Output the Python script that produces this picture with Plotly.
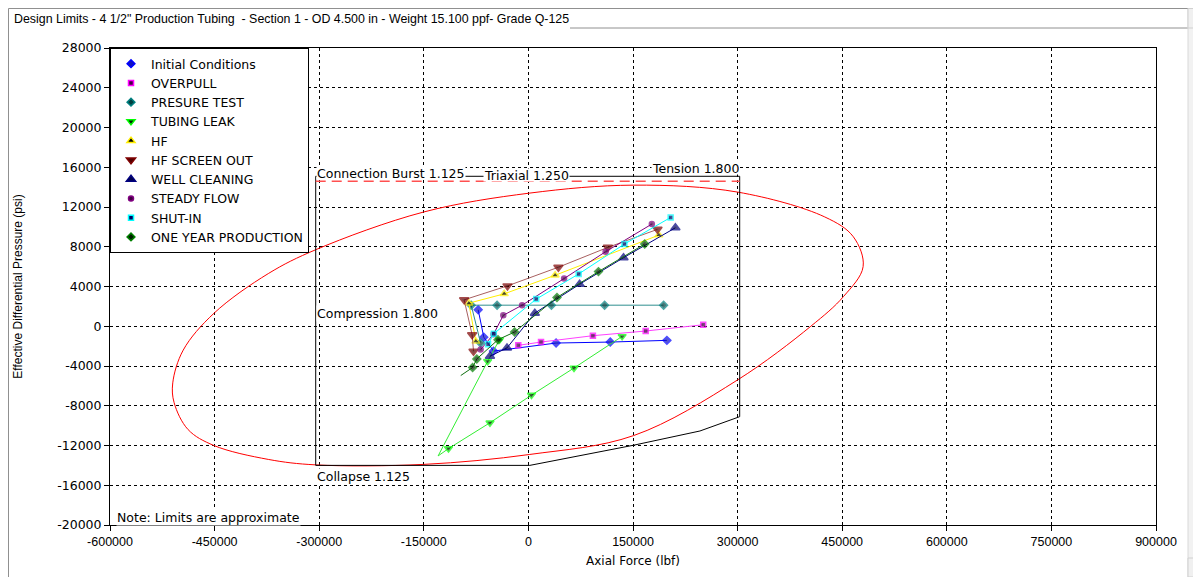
import plotly.graph_objects as go

# ---------------- data ----------------
TITLE = 'Design Limits - 4 1/2" Production Tubing  - Section 1 - OD 4.500 in - Weight 15.100 ppf- Grade Q-125'

X_TICKS = [-600000, -450000, -300000, -150000, 0, 150000, 300000, 450000, 600000, 750000, 900000]
Y_TICKS = [-20000, -16000, -12000, -8000, -4000, 0, 4000, 8000, 12000, 16000, 20000, 24000, 28000]

# Triaxial envelope
TRIAX_X = [151000, 300000, 425000, 466000, 480000, 452000, 405000, 300000, 151000, 2000,
           -150000, -305000, -373000, -451000, -488000, -508000, -510000, -495000, -451000,
           -373000, -305000, -150000, 2000, 151000]
TRIAX_Y = [14200, 13500, 11000, 9000, 6000, 3000, 0, -5400, -11000, -12900,
           -13900, -13950, -13400, -12000, -10400, -7700, -5700, -2400, 1300,
           5300, 7700, 11500, 13400, 14200]

# Rectangular / collapse limit outline
LIMIT_X = [-305000, -305000, 303000, 303000, 246000, 151000, 2000, -305000]
LIMIT_Y = [-14000, 15090, 15090, -9100, -10540, -11970, -14000, -14000]

# Connection burst
CONN_BURST_X = [-305000, 303000]
CONN_BURST_Y = [14590, 14590]

SERIES_NAMES = ["Initial Conditions", "OVERPULL", "PRESURE TEST", "TUBING LEAK", "HF",
                "HF SCREEN OUT", "WELL CLEANING", "STEADY FLOW", "SHUT-IN", "ONE YEAR PRODUCTION"]

INIT_X = [-72000, -64000, -50000, 39700, 117400, 198600]
INIT_Y = [1660, -1100, -2500, -1690, -1590, -1420]

OVERPULL_X = [-14500, 18100, 92500, 168200, 250700]
OVERPULL_Y = [-1920, -1590, -950, -480, 150]

PRESS_X = [-68500, -82000, -44900, 33000, 109300, 193900]
PRESS_Y = [-1690, 2120, 2120, 2120, 2120, 2120]

LEAK_X = [-41400, -58400, -129500, -114600, -55100, 4400, 65400, 134400]
LEAK_Y = [-1350, -3520, -13050, -12310, -9710, -6930, -4200, -1020]

HF_X = [-75300, -85500, -34700, 38300, 187100]
HF_Y = [-1520, 2320, 3260, 5130, 9170]

HFSO_X = [-78700, -80700, -92200, -30000, 43000, 114000, 185100]
HFSO_Y = [-2520, -850, 2660, 4060, 5940, 7940, 9750]

WELL_X = [-55100, -30700, 9200, 73400, 136400, 210800]
WELL_Y = [-3020, -2180, 1320, 4230, 6900, 9910]

STEADY_X = [-68500, -50000, -36000, -9000, 51200, 110700, 177000]
STEADY_Y = [-2350, -800, 1100, 2120, 4800, 7500, 10280]

SHUT_X = [-57800, -49600, 11200, 72100, 137700, 204000]
SHUT_Y = [-1820, -750, 2730, 5260, 8270, 10950]

ONEYEAR_X = [-97000, -80000, -74000, -43600, -19800, 41000, 100500, 166800]
ONEYEAR_Y = [-4960, -4150, -3290, -1350, -580, 2900, 5500, 8270]

# ---------------- styles ----------------
ARIAL = "Liberation Sans, Arial, sans-serif"
WIDE = "DejaVu Sans, Verdana, sans-serif"
STYLES = [
    # line color, marker symbol, marker fill, marker outline, size
    ("#0000ff", "diamond", "#1010c0", "#0000ff", 6),
    ("#ff40ff", "square", "#400040", "#ff00ff", 5),
    ("#2f8f8f", "diamond", "#004040", "#008080", 6),
    ("#33ee33", "triangle-down", "#002000", "#00ff00", 7),
    ("#ffee00", "triangle-up", "#000000", "#ffee00", 7),
    ("#a86060", "triangle-down", "#500000", "#800000", 8),
    ("#000080", "triangle-up", "#000050", "#000080", 8),
    ("#800080", "circle", "#400040", "#800080", 5),
    ("#00ffff", "square", "#000060", "#00ffff", 5),
    ("#107010", "diamond", "#002000", "#008000", 6),
]
DATA = [(INIT_X, INIT_Y), (OVERPULL_X, OVERPULL_Y), (PRESS_X, PRESS_Y), (LEAK_X, LEAK_Y),
        (HF_X, HF_Y), (HFSO_X, HFSO_Y), (WELL_X, WELL_Y), (STEADY_X, STEADY_Y),
        (SHUT_X, SHUT_Y), (ONEYEAR_X, ONEYEAR_Y)]

# page is offset by the 8px body margin of the html page
PAGE_OFF = 8
W, H = 1201 - PAGE_OFF, 577 - PAGE_OFF
L, R, T, B = 102, 45, 40, 52
PLOT_LEFT_PAGE = PAGE_OFF + L
PLOT_BOTTOM_PAGE = PAGE_OFF + H - B
PW, PH = W - L - R, H - T - B


def pxx(x_page):
    return (x_page - PLOT_LEFT_PAGE) / PW


def pyy(y_page):
    return (PLOT_BOTTOM_PAGE - y_page) / PH


fig = go.Figure()

# limit lines
fig.add_trace(go.Scatter(x=TRIAX_X, y=TRIAX_Y, mode="lines",
                         line=dict(color="#ff0000", width=1, shape="spline", smoothing=1.0),
                         showlegend=False, hoverinfo="skip"))
fig.add_trace(go.Scatter(x=LIMIT_X, y=LIMIT_Y, mode="lines", line=dict(color="#000000", width=1),
                         showlegend=False, hoverinfo="skip"))
fig.add_trace(go.Scatter(x=CONN_BURST_X, y=CONN_BURST_Y, mode="lines",
                         line=dict(color="#ff5050", width=1.5, dash="10px,6px"),
                         showlegend=False, hoverinfo="skip"))

# data series
for name, (xs, ys), (lc, sym, mf, ml, sz) in zip(SERIES_NAMES, DATA, STYLES):
    sizes = [sz] * len(xs)
    if name == "TUBING LEAK":
        sizes[2] = 0
    if name == "ONE YEAR PRODUCTION":
        sizes[0] = 0
    fig.add_trace(go.Scatter(x=xs, y=ys, mode="lines+markers", name=name, showlegend=False,
                             line=dict(color=lc, width=1),
                             marker=dict(symbol=sym, size=sizes, color=mf, line=dict(color=ml, width=1.5))))

# legend-only traces
for name, (lc, sym, mf, ml, sz) in zip(SERIES_NAMES, STYLES):
    fig.add_trace(go.Scatter(x=[None], y=[None], mode="markers", name=name,
                             marker=dict(symbol=sym, size=sz, color=mf, line=dict(color=ml, width=1.5))))

lab_font = dict(family=WIDE, size=12.5, color="#000000")
labels = [
    dict(x=-305000, y=15390, text="Connection Burst 1.125", xanchor="left", height=12),
    dict(x=-2900, y=15240, text="Triaxial 1.250", xanchor="center", height=12),
    dict(x=303000, y=15900, text="Tension 1.800", xanchor="right", height=12),
    dict(x=-305000, y=1310, text="Compression 1.800", xanchor="left", height=15),
    dict(x=-305000, y=-15090, text="Collapse 1.125", xanchor="left", height=15),
]
anns = []
for a in labels:
    a.update(xref="x", yref="y", yanchor="middle", showarrow=False, font=lab_font,
             bgcolor="#ffffff", borderpad=0)
    anns.append(a)
anns.append(dict(x=-592000, y=-19210, xref="x", yref="y", text="Note: Limits are approximate",
                 showarrow=False, xanchor="left", yanchor="middle",
                 font=dict(family=WIDE, size=12.5, color="#000"), bgcolor="#ffffff", borderpad=0))
anns.append(dict(x=pxx(12), y=pyy(19), xref="paper", yref="paper", text=TITLE, showarrow=False,
                 xanchor="left", yanchor="middle", font=dict(family=ARIAL, size=12.4, color="#000")))

GRAY = "#909090"
shapes = [
    # window frame
    dict(type="line", xref="paper", yref="paper", x0=pxx(8.5), x1=pxx(1188), y0=pyy(8.5), y1=pyy(8.5),
         line=dict(color=GRAY, width=1)),
    dict(type="line", xref="paper", yref="paper", x0=pxx(8.5), x1=pxx(8.5), y0=pyy(8.5), y1=pyy(577),
         line=dict(color=GRAY, width=1)),
    dict(type="line", xref="paper", yref="paper", x0=pxx(570), x1=pxx(1188), y0=pyy(28), y1=pyy(28),
         line=dict(color=GRAY, width=1)),
    # scrollbar
    dict(type="rect", xref="paper", yref="paper", x0=pxx(1188), x1=pxx(1200.5), y0=pyy(8.5), y1=pyy(577),
         fillcolor="#f2f2f2", line=dict(color="#d8d8d8", width=1)),
    dict(type="rect", xref="paper", yref="paper", x0=pxx(1188), x1=pxx(1200.5), y0=pyy(8.5), y1=pyy(28),
         fillcolor="#f0f0f0", line=dict(color="#d0d0d0", width=1)),
    dict(type="rect", xref="paper", yref="paper", x0=pxx(1188), x1=pxx(1200.5), y0=pyy(558), y1=pyy(577),
         fillcolor="#f0f0f0", line=dict(color="#d0d0d0", width=1)),
]

fig.update_layout(
    width=W, height=H,
    margin=dict(l=L, r=R, t=T, b=B, pad=0, autoexpand=False),
    paper_bgcolor="#ffffff", plot_bgcolor="#ffffff",
    font=dict(family=ARIAL, size=12, color="#000000"),
    showlegend=True,
    legend=dict(x=0, y=1, xanchor="left", yanchor="top", bgcolor="#ffffff", bordercolor="#000000",
                borderwidth=1, font=dict(family=WIDE, size=12.5, color="#000"), tracegroupgap=0,
                itemwidth=30),
    annotations=anns,
    shapes=shapes,
)
fig.update_xaxes(range=[-600000, 900000], tickvals=X_TICKS, ticktext=[str(v) for v in X_TICKS],
                 showgrid=True, gridcolor="#000000", griddash="3px,3px", gridwidth=1,
                 showline=True, linecolor="#000000", linewidth=1, mirror=True, automargin=False,
                 ticks="outside", ticklen=5, tickcolor="#000", zeroline=False,
                 title=dict(text="Axial Force (lbf)", font=dict(family=WIDE, size=12), standoff=8),
                 tickfont=dict(family=ARIAL, size=12.5))
fig.update_yaxes(range=[-20000, 28000], tickvals=Y_TICKS, ticktext=[str(v) for v in Y_TICKS],
                 showgrid=True, gridcolor="#000000", griddash="3px,3px", gridwidth=1,
                 showline=True, linecolor="#000000", linewidth=1, mirror=True, automargin=False,
                 ticks="outside", ticklen=5, tickcolor="#000", zeroline=False,
                 title=dict(text="Effective Differential Pressure (psi)", font=dict(family=ARIAL, size=12),
                            standoff=32),
                 tickfont=dict(family=WIDE, size=12.5))

fig.write_html("out.html")
